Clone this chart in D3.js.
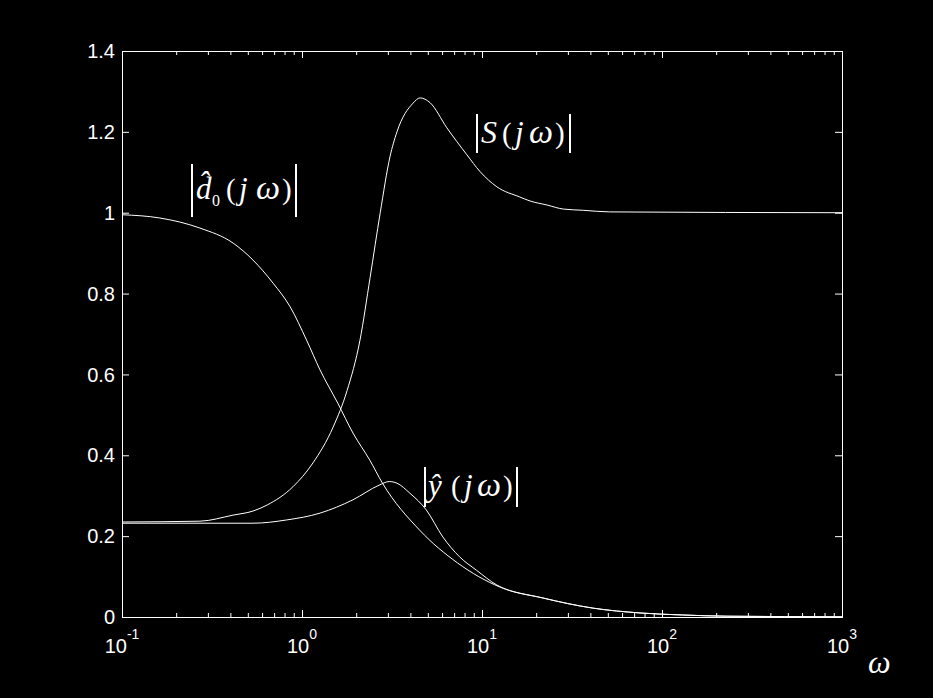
<!DOCTYPE html>
<html>
<head>
<meta charset="utf-8">
<script src="https://cdn.jsdelivr.net/npm/d3@7"></script>
<style>
html,body{margin:0;padding:0;background:#000;}
svg{display:block;}
</style>
</head>
<body>
<svg id="chart" width="933" height="698"></svg>
<script>
// ---- data ----
const dHatOmega = [0.1, 0.162, 0.271, 0.414, 0.534, 0.69, 0.86, 1.06, 1.26, 1.58, 1.92, 2.38, 2.8, 4.5, 7.3, 12.6, 21.8, 41.3, 75.5, 130, 230, 1000];
const dHatMag   = [0.995, 0.987, 0.962, 0.925, 0.883, 0.826, 0.767, 0.685, 0.611, 0.529, 0.455, 0.388, 0.331, 0.215, 0.134, 0.074, 0.047, 0.022, 0.010, 0.005, 0.002, 0.0005];

const sOmega = [0.1, 0.271, 0.414, 0.534, 0.64, 0.89, 1.15, 1.49, 1.78, 2.1, 2.39, 2.72, 3.08, 3.37, 4.14, 4.53, 5.15, 6.38, 8.25, 9.74, 12.1, 16.2, 18.5, 23, 28.3, 36.5, 51, 1000];
const sMag   = [0.235, 0.237, 0.252, 0.262, 0.277, 0.322, 0.381, 0.470, 0.56, 0.685, 0.84, 1.0, 1.138, 1.2, 1.271, 1.284, 1.272, 1.21, 1.143, 1.102, 1.064, 1.039, 1.029, 1.019, 1.009, 1.006, 1.002, 1.0];

const yHatOmega = [0.1, 0.534, 0.82, 1.26, 1.92, 2.68, 3.05, 3.37, 3.98, 4.9, 6.06, 7.5, 9.3, 12.1, 21.8, 41.3, 75.5, 130, 230, 1000];
const yHatMag   = [0.232, 0.232, 0.24, 0.257, 0.29, 0.326, 0.335, 0.331, 0.306, 0.265, 0.198, 0.149, 0.116, 0.079, 0.047, 0.022, 0.010, 0.005, 0.002, 0.0005];

const yTicks = [0, 0.2, 0.4, 0.6, 0.8, 1.0, 1.2, 1.4];
const yTickLabels = ["0", "0.2", "0.4", "0.6", "0.8", "1", "1.2", "1.4"];
const xDecadeExps = [-1, 0, 1, 2, 3];
const xTickLabels = ["-1", "0", "1", "2", "3"];

// ---- layout ----
const padL = 122, padR = 842, padT = 51, padB = 617;
const svg = d3.select("#chart");
svg.append("rect").attr("width", 933).attr("height", 698).attr("fill", "#000");

const x = d3.scaleLog().domain([0.1, 1000]).range([padL, padR]);
const y = d3.scaleLinear().domain([0, 1.4]).range([padB, padT]);

const majorX = xDecadeExps.map(e => Math.pow(10, e));
const minorX = [];
for (let e = -1; e < 3; e++) for (let m = 2; m <= 9; m++) minorX.push(m * Math.pow(10, e));

function styleAxis(g) {
  g.select(".domain").remove();
  g.selectAll("line").attr("stroke", "#fff").attr("stroke-width", 1);
  g.selectAll("text").remove();
}

// bottom / top axes
svg.append("g").attr("transform", `translate(0,${padB})`)
  .call(d3.axisBottom(x).tickValues(majorX).tickSizeInner(-7).tickSizeOuter(0).tickFormat(""))
  .call(styleAxis);
svg.append("g").attr("transform", `translate(0,${padB})`)
  .call(d3.axisBottom(x).tickValues(minorX).tickSizeInner(-4).tickSizeOuter(0).tickFormat(""))
  .call(styleAxis);
svg.append("g").attr("transform", `translate(0,${padT})`)
  .call(d3.axisTop(x).tickValues(majorX).tickSizeInner(-7).tickSizeOuter(0).tickFormat(""))
  .call(styleAxis);
svg.append("g").attr("transform", `translate(0,${padT})`)
  .call(d3.axisTop(x).tickValues(minorX).tickSizeInner(-4).tickSizeOuter(0).tickFormat(""))
  .call(styleAxis);
// left / right axes
svg.append("g").attr("transform", `translate(${padL},0)`)
  .call(d3.axisLeft(y).tickValues(yTicks).tickSizeInner(-7).tickSizeOuter(0).tickFormat(""))
  .call(styleAxis);
svg.append("g").attr("transform", `translate(${padR},0)`)
  .call(d3.axisRight(y).tickValues(yTicks).tickSizeInner(-7).tickSizeOuter(0).tickFormat(""))
  .call(styleAxis);

// box
svg.append("rect").attr("x", padL + 0.5).attr("y", padT + 0.5)
  .attr("width", padR - padL).attr("height", padB - padT)
  .attr("fill", "none").attr("stroke", "#fff").attr("stroke-width", 1);

// y tick labels
svg.append("g").selectAll("text").data(yTicks).join("text")
  .attr("x", padL - 7).attr("y", d => y(d)).attr("dy", "0.36em")
  .attr("text-anchor", "end")
  .attr("font-family", "'Liberation Sans', Arial, sans-serif")
  .attr("font-size", 20).attr("fill", "#fff")
  .text((d, i) => yTickLabels[i]);

// x tick labels 10^n
const xl = svg.append("g").selectAll("text").data(majorX).join("text")
  .attr("x", d => x(d)).attr("y", 653)
  .attr("text-anchor", "middle")
  .attr("font-family", "'Liberation Sans', Arial, sans-serif")
  .attr("font-size", 20).attr("fill", "#fff");
xl.append("tspan").text("10");
xl.append("tspan").attr("dy", -14).attr("font-size", 14).text((d, i) => xTickLabels[i]);

// omega axis label
svg.append("text").attr("x", 868).attr("y", 673)
  .attr("font-family", "'Liberation Serif', 'Times New Roman', serif")
  .attr("font-style", "italic").attr("font-size", 32).attr("fill", "#fff").text("ω");

// curves
const line = d3.line().x(d => x(d[0])).y(d => y(d[1])).curve(d3.curveMonotoneX);
const series = [
  d3.zip(dHatOmega, dHatMag),
  d3.zip(sOmega, sMag),
  d3.zip(yHatOmega, yHatMag)
];
svg.append("g").selectAll("path").data(series).join("path")
  .attr("d", line).attr("fill", "none").attr("stroke", "#fff").attr("stroke-width", 1);

// math labels
const serif = "'Liberation Serif', 'Times New Roman', serif";
function glyph(g, txt, gx, gy, size, italic) {
  return g.append("text").attr("x", gx).attr("y", gy)
    .attr("font-family", serif).attr("font-size", size)
    .attr("font-style", italic ? "italic" : "normal")
    .attr("fill", "#fff").text(txt);
}
function bar(g, bx, y1, y2) {
  g.append("line").attr("x1", bx).attr("x2", bx).attr("y1", y1).attr("y2", y2)
    .attr("stroke", "#fff").attr("stroke-width", 2);
}
// |d0(jw)|
{
  const g = svg.append("g");
  bar(g, 192, 164, 217);
  glyph(g, "d\u0302", 196, 199, 31, true);
  glyph(g, "0", 212, 206, 16, false);
  glyph(g, "(", 226, 199, 29, false);
  glyph(g, "j", 239, 199, 31, true);
  glyph(g, "ω", 256, 199, 34, true);
  glyph(g, ")", 282, 199, 29, false);
  bar(g, 296, 164, 217);
}
// |S(jw)|
{
  const g = svg.append("g");
  bar(g, 477, 114, 153);
  glyph(g, "S", 481, 143, 32, true);
  glyph(g, "(", 502, 143, 29, false);
  glyph(g, "j", 515, 143, 31, true);
  glyph(g, "ω", 529, 143, 34, true);
  glyph(g, ")", 555, 143, 29, false);
  bar(g, 570, 114, 153);
}
// |y(jw)|
{
  const g = svg.append("g");
  bar(g, 425, 467, 507);
  glyph(g, "\u0177", 428, 496, 31, true);
  glyph(g, "(", 451, 496, 29, false);
  glyph(g, "j", 464, 496, 31, true);
  glyph(g, "ω", 477, 496, 34, true);
  glyph(g, ")", 503, 496, 29, false);
  bar(g, 517, 467, 507);
}
</script>
</body>
</html>
